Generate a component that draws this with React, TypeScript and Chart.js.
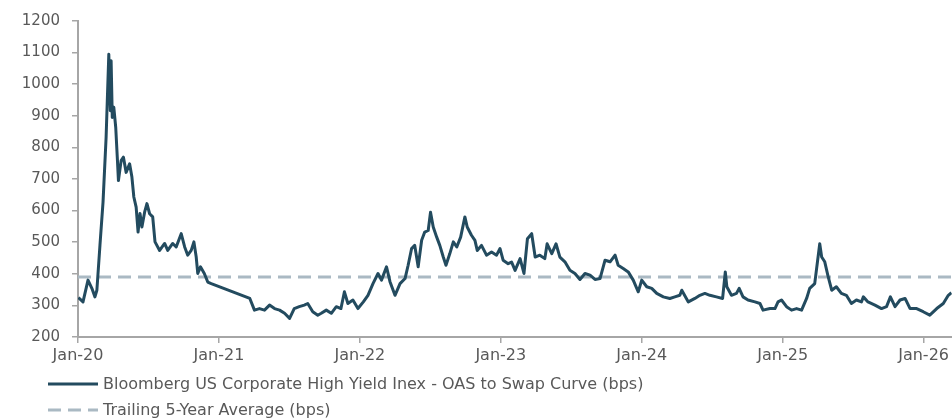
import React, { useEffect, useRef } from "react";
import { Chart, registerables } from "chart.js";

Chart.register(...registerables);

// ---- Data ----
const seriesLabel = "Bloomberg US Corporate High Yield Inex - OAS to Swap Curve (bps)";
const avgLabel = "Trailing 5-Year Average (bps)";
const avgValue = 390;

const dates: string[] = [
  "2020-01-02", "2020-01-14", "2020-01-27", "2020-02-06", "2020-02-14", "2020-02-19", "2020-02-27",
  "2020-03-06", "2020-03-14", "2020-03-21", "2020-03-25", "2020-03-27", "2020-03-30", "2020-04-03",
  "2020-04-08", "2020-04-12", "2020-04-15", "2020-04-22", "2020-04-28", "2020-05-05", "2020-05-14",
  "2020-05-20", "2020-05-25", "2020-05-31", "2020-06-05", "2020-06-10", "2020-06-15", "2020-06-22",
  "2020-06-28", "2020-07-05", "2020-07-13", "2020-07-19", "2020-07-31", "2020-08-13", "2020-08-21",
  "2020-09-03", "2020-09-12", "2020-09-25", "2020-10-04", "2020-10-12", "2020-10-21", "2020-10-28",
  "2020-11-03", "2020-11-07", "2020-11-14", "2020-11-24", "2020-12-03", "2020-12-12",
  "2021-03-22", "2021-04-03", "2021-04-16", "2021-04-29", "2021-05-12", "2021-05-25", "2021-06-07",
  "2021-06-20", "2021-07-03", "2021-07-15", "2021-07-28", "2021-08-10", "2021-08-19", "2021-09-01",
  "2021-09-14", "2021-09-23", "2021-10-06", "2021-10-19", "2021-11-01", "2021-11-13", "2021-11-22",
  "2021-12-01", "2021-12-14", "2021-12-27",
  "2022-01-10", "2022-01-22", "2022-02-04", "2022-02-17", "2022-02-26", "2022-03-11", "2022-03-20",
  "2022-04-02", "2022-04-15", "2022-04-28", "2022-05-06", "2022-05-15", "2022-05-23", "2022-06-01",
  "2022-06-10", "2022-06-18", "2022-06-27", "2022-07-03", "2022-07-10", "2022-07-19", "2022-07-27",
  "2022-08-05", "2022-08-12", "2022-08-22", "2022-08-31", "2022-09-09", "2022-09-19", "2022-09-30",
  "2022-10-06", "2022-10-17", "2022-10-26", "2022-11-01", "2022-11-12", "2022-11-25", "2022-12-08",
  "2022-12-21", "2022-12-30",
  "2023-01-07", "2023-01-20", "2023-01-29", "2023-02-07", "2023-02-20", "2023-03-02", "2023-03-11",
  "2023-03-22", "2023-03-31", "2023-04-12", "2023-04-25", "2023-05-01", "2023-05-13", "2023-05-24",
  "2023-06-03", "2023-06-16", "2023-06-29", "2023-07-12", "2023-07-25", "2023-08-07", "2023-08-20",
  "2023-09-02", "2023-09-15", "2023-09-28", "2023-10-11", "2023-10-24", "2023-11-01", "2023-11-14",
  "2023-11-27", "2023-12-10", "2023-12-23",
  "2024-01-01", "2024-01-14", "2024-01-27", "2024-02-09", "2024-02-26", "2024-03-14", "2024-03-27",
  "2024-04-09", "2024-04-14", "2024-05-01", "2024-05-18", "2024-05-31", "2024-06-13", "2024-06-26",
  "2024-07-13", "2024-07-29", "2024-08-05", "2024-08-09", "2024-08-21", "2024-09-03", "2024-09-10",
  "2024-09-20", "2024-10-03", "2024-10-21", "2024-11-03", "2024-11-11", "2024-11-29", "2024-12-12",
  "2024-12-20", "2024-12-29",
  "2025-01-11", "2025-01-24", "2025-02-06", "2025-02-19", "2025-03-04", "2025-03-12", "2025-03-25",
  "2025-04-07", "2025-04-12", "2025-04-20", "2025-04-29", "2025-05-08", "2025-05-20", "2025-06-02",
  "2025-06-15", "2025-06-28", "2025-07-11", "2025-07-24", "2025-07-29", "2025-08-10", "2025-08-28",
  "2025-09-14", "2025-09-27", "2025-10-07", "2025-10-19", "2025-11-01", "2025-11-14", "2025-11-27",
  "2025-12-14", "2025-12-31",
  "2026-01-17", "2026-02-04", "2026-02-21", "2026-03-06", "2026-03-14",
];

const spreads: number[] = [
  325, 311, 380, 354, 327, 348, 490,
  627, 832, 1095, 916, 1074, 895, 927,
  863, 769, 695, 758, 769, 721, 748,
  706, 643, 611, 532, 591, 548, 595,
  622, 590, 580, 501, 474, 496, 474,
  496, 485, 527, 485, 459, 474, 501,
  453, 401, 422, 401, 374, 369,
  322, 285, 290, 285, 301, 290, 285,
  275, 259, 290, 296, 301, 306, 280,
  269, 275, 285, 275, 296, 290, 343,
  306, 317, 290,
  311, 332, 369, 401, 380, 422, 375,
  332, 369, 385, 427, 480, 490, 422,
  506, 532, 537, 595, 548, 516, 490,
  453, 427, 464, 501, 485, 516, 580,
  548, 522, 506, 474, 490, 459, 469,
  459, 480,
  443, 432, 437, 411, 448, 401, 511,
  527, 453, 459, 448, 495, 464, 495,
  453, 438, 411, 401, 382, 401, 396,
  382, 385, 443, 438, 459, 427, 417,
  406, 380, 343,
  380, 359, 354, 338, 327, 322, 327,
  332, 348, 311, 322, 332, 338, 332,
  327, 322, 406, 359, 332, 338, 354,
  327, 317, 311, 306, 285, 290, 290,
  311, 317,
  296, 285, 290, 285, 322, 354, 369,
  495, 453, 438, 390, 348, 359, 338,
  332, 306, 317, 311, 327, 311, 301,
  290, 296, 327, 296, 317, 322, 290,
  290, 280,
  269, 290, 306, 332, 340,
];

const tickYears: number[] = [2020, 2021, 2022, 2023, 2024, 2025, 2026];
const xMin = 2020;
const xMax = 2026.2;
const yMin = 200;
const yMax = 1200;
const yStep = 100;

const LINE_COLOR = "#234b5f";
const AVG_COLOR = "#aab9c3";
const TEXT_COLOR = "#595959";
const AXIS_COLOR = "#a6a6a6";
const FONT = "'DejaVu Sans', sans-serif";

function toYear(s: string): number {
  const [y, m, d] = s.split("-").map(Number);
  const start = Date.UTC(y, 0, 1);
  const end = Date.UTC(y + 1, 0, 1);
  return y + (Date.UTC(y, m - 1, d) - start) / (end - start);
}

const legendPlugin = {
  id: "stackedLegend",
  afterDraw(chart: any) {
    const ctx = chart.ctx as CanvasRenderingContext2D;
    chart.data.datasets.forEach((ds: any, i: number) => {
      const y = 384 + i * 26;
      ctx.save();
      ctx.strokeStyle = ds.borderColor;
      ctx.lineWidth = 3;
      ctx.setLineDash(ds.borderDash || []);
      ctx.beginPath();
      ctx.moveTo(48, y);
      ctx.lineTo(98, y);
      ctx.stroke();
      ctx.setLineDash([]);
      ctx.fillStyle = TEXT_COLOR;
      ctx.font = `16px ${FONT}`;
      ctx.textBaseline = "middle";
      ctx.textAlign = "left";
      ctx.fillText(ds.label, 103, y + 1);
      ctx.restore();
    });
  },
};

export default function App() {
  const canvasRef = useRef<HTMLCanvasElement | null>(null);

  useEffect(() => {
    document.body.style.margin = "0";
    const canvas = canvasRef.current;
    if (!canvas) return;
    const mainData = dates.map((d, i) => ({ x: toYear(d), y: spreads[i] }));
    const avgData = [xMin, xMax].map((x) => ({ x, y: avgValue }));

    const chart = new Chart(canvas, {
      type: "line",
      data: {
        datasets: [
          {
            label: seriesLabel,
            data: mainData,
            borderColor: LINE_COLOR,
            backgroundColor: LINE_COLOR,
            borderWidth: 3,
            pointRadius: 0,
            tension: 0,
            borderJoinStyle: "round",
          },
          {
            label: avgLabel,
            data: avgData,
            borderColor: AVG_COLOR,
            backgroundColor: AVG_COLOR,
            borderWidth: 3,
            borderDash: [13, 7],
            pointRadius: 0,
          },
        ],
      },
      options: {
        animation: false,
        responsive: false,
        maintainAspectRatio: false,
        layout: { padding: { top: 20, right: 0, bottom: 0, left: 0 } },
        plugins: {
          legend: { display: false },
          tooltip: { enabled: false },
        },
        scales: {
          x: {
            type: "linear",
            min: xMin,
            max: xMax,
            afterBuildTicks: (s: any) => {
              s.ticks = tickYears.map((v) => ({ value: v }));
            },
            afterFit: (s: any) => {
              s.height = 81;
            },
            ticks: {
              color: TEXT_COLOR,
              font: { family: FONT, size: 16 },
              padding: 3,
              maxRotation: 0,
              autoSkip: false,
              callback: (v: any) => "Jan-" + String(v).slice(2, 4),
            },
            grid: {
              display: true,
              drawOnChartArea: false,
              drawTicks: true,
              tickLength: 6,
              color: AXIS_COLOR,
              lineWidth: 1.5,
            },
            border: { display: true, color: AXIS_COLOR, width: 2 },
          },
          y: {
            min: yMin,
            max: yMax,
            afterFit: (s: any) => {
              s.width = 78;
            },
            ticks: {
              stepSize: yStep,
              color: TEXT_COLOR,
              font: { family: FONT, size: 15 },
              padding: 12,
              callback: (v: any) => String(v),
            },
            grid: {
              display: true,
              drawOnChartArea: false,
              drawTicks: true,
              tickLength: 6,
              color: AXIS_COLOR,
              lineWidth: 1.5,
            },
            border: { display: true, color: AXIS_COLOR, width: 2 },
          },
        },
      },
      plugins: [legendPlugin],
    });
    return () => chart.destroy();
  }, []);

  return (
    <div style={{ width: 952, height: 418 }}>
      <canvas ref={canvasRef} width={952} height={418} style={{ display: "block" }} />
    </div>
  );
}
